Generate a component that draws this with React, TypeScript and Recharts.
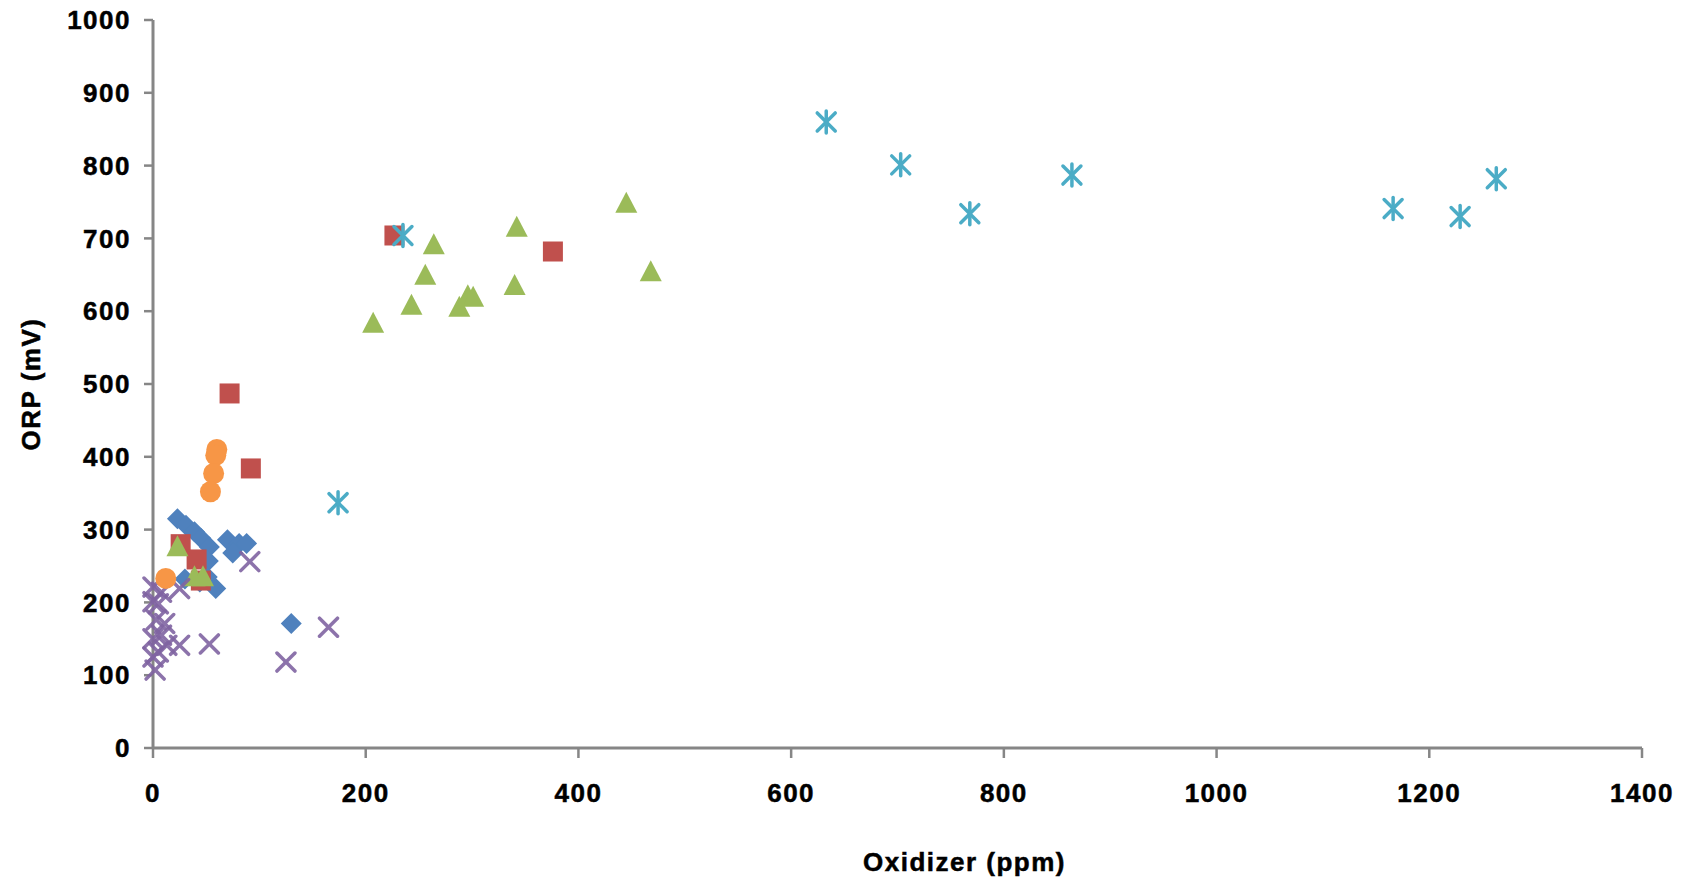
import React from 'react'
import { ScatterChart, Scatter, XAxis, YAxis } from 'recharts'

// axis ticks
const xTicks = [0, 200, 400, 600, 800, 1000, 1200, 1400]
const yTicks = [0, 100, 200, 300, 400, 500, 600, 700, 800, 900, 1000]

// series (x = oxidizer ppm, y = ORP mV)
const diamondPoints = [
  { x: 23, y: 315 }, { x: 31, y: 306 }, { x: 39, y: 297 }, { x: 45, y: 288 },
  { x: 53, y: 276 }, { x: 52, y: 257 }, { x: 51, y: 235 }, { x: 70, y: 286 },
  { x: 81, y: 281 }, { x: 88, y: 281 }, { x: 75, y: 268 }, { x: 30, y: 232 },
  { x: 44, y: 228 }, { x: 59, y: 219 }, { x: 130, y: 171 },
]

const squarePoints = [
  { x: 227, y: 704 }, { x: 376, y: 682 }, { x: 72, y: 487 }, { x: 92, y: 384 },
  { x: 26, y: 280 }, { x: 41, y: 259 }, { x: 45, y: 230 },
]

const trianglePoints = [
  { x: 207, y: 584 }, { x: 243, y: 609 }, { x: 256, y: 650 }, { x: 264, y: 692 },
  { x: 288, y: 606 }, { x: 296, y: 622 }, { x: 301, y: 620 }, { x: 342, y: 716 },
  { x: 340, y: 636 }, { x: 445, y: 749 }, { x: 468, y: 655 },
  { x: 23, y: 277 }, { x: 39, y: 236 }, { x: 47, y: 236 },
]

const crossPoints = [
  { x: 0, y: 221 }, { x: 8, y: 214 }, { x: 25, y: 219 }, { x: 0, y: 201 },
  { x: 5, y: 198 }, { x: 3, y: 176 }, { x: 11, y: 171 }, { x: 0, y: 150 },
  { x: 8, y: 155 }, { x: 13, y: 141 }, { x: 25, y: 141 }, { x: 53, y: 143 },
  { x: 0, y: 125 }, { x: 5, y: 132 }, { x: 2, y: 107 }, { x: 125, y: 118 },
  { x: 165, y: 166 }, { x: 91, y: 256 },
]

const starPoints = [
  { x: 633, y: 860 }, { x: 703, y: 801 }, { x: 768, y: 734 }, { x: 864, y: 787 },
  { x: 1166, y: 741 }, { x: 1229, y: 730 }, { x: 1263, y: 782 }, { x: 174, y: 337 },
  { x: 235, y: 704 },
]

const circlePoints = [
  { x: 60, y: 410 }, { x: 59, y: 402 }, { x: 57, y: 377 }, { x: 54, y: 352 },
  { x: 12, y: 233 },
]

const axisColor = '#868686'
const textStyle = {
  fontFamily: 'Liberation Sans, Arial, sans-serif',
  fontWeight: 'bold',
  fontSize: 26,
  letterSpacing: 1.5,
  fill: '#000',
  stroke: '#000',
  strokeWidth: 0.5,
}

const DiamondShape = (props: any) => {
  const { cx, cy } = props
  const r = 10.5
  return <polygon points={`${cx},${cy - r} ${cx + r},${cy} ${cx},${cy + r} ${cx - r},${cy}`} fill="#4F81BD" />
}

const SquareShape = (props: any) => {
  const { cx, cy } = props
  return <rect x={cx - 10} y={cy - 10} width={20} height={20} fill="#C0504D" />
}

const TriangleShape = (props: any) => {
  const { cx, cy } = props
  return <polygon points={`${cx},${cy - 11} ${cx + 11},${cy + 10} ${cx - 11},${cy + 10}`} fill="#9BBB59" />
}

const CrossShape = (props: any) => {
  const { cx, cy } = props
  const r = 9
  return (
    <g stroke="#8064A2" strokeWidth={3.5} strokeLinecap="round" opacity={0.9}>
      <line x1={cx - r} y1={cy - r} x2={cx + r} y2={cy + r} />
      <line x1={cx - r} y1={cy + r} x2={cx + r} y2={cy - r} />
    </g>
  )
}

const StarShape = (props: any) => {
  const { cx, cy } = props
  const r = 9
  return (
    <g stroke="#4BACC6" strokeWidth={3.5} strokeLinecap="round">
      <line x1={cx - r} y1={cy - r} x2={cx + r} y2={cy + r} />
      <line x1={cx - r} y1={cy + r} x2={cx + r} y2={cy - r} />
      <line x1={cx} y1={cy - r - 2} x2={cx} y2={cy + r + 2} />
    </g>
  )
}

const CircleShape = (props: any) => {
  const { cx, cy } = props
  return <circle cx={cx} cy={cy} r={10.5} fill="#F79646" />
}

export default function App() {
  return (
    <div style={{ position: 'absolute', left: 0, top: 0, background: '#fff' }}>
      <ScatterChart width={1694} height={883} margin={{ top: 20, right: 52, bottom: 0, left: 10 }}>
        <XAxis
          type="number"
          dataKey="x"
          domain={[0, 1400]}
          ticks={xTicks}
          interval={0}
          height={135}
          tickSize={10}
          tickMargin={26}
          axisLine={{ stroke: axisColor, strokeWidth: 3 }}
          tickLine={{ stroke: axisColor, strokeWidth: 2.5 }}
          tick={textStyle}
          label={{
            value: 'Oxidizer (ppm)',
            position: 'insideBottom',
            offset: 12,
            dx: 67,
            style: textStyle,
          }}
        />
        <YAxis
          type="number"
          dataKey="y"
          domain={[0, 1000]}
          ticks={yTicks}
          interval={0}
          width={143}
          tickSize={9}
          tickMargin={13}
          axisLine={{ stroke: axisColor, strokeWidth: 3 }}
          tickLine={{ stroke: axisColor, strokeWidth: 2.5 }}
          tick={textStyle}
          label={{
            value: 'ORP (mV)',
            angle: -90,
            position: 'insideLeft',
            offset: 21,
            textAnchor: 'middle',
            style: { ...textStyle, textAnchor: 'middle' },
          }}
        />
        <Scatter data={diamondPoints} shape={DiamondShape} isAnimationActive={false} />
        <Scatter data={squarePoints} shape={SquareShape} isAnimationActive={false} />
        <Scatter data={trianglePoints} shape={TriangleShape} isAnimationActive={false} />
        <Scatter data={crossPoints} shape={CrossShape} isAnimationActive={false} />
        <Scatter data={starPoints} shape={StarShape} isAnimationActive={false} />
        <Scatter data={circlePoints} shape={CircleShape} isAnimationActive={false} />
      </ScatterChart>
    </div>
  )
}
